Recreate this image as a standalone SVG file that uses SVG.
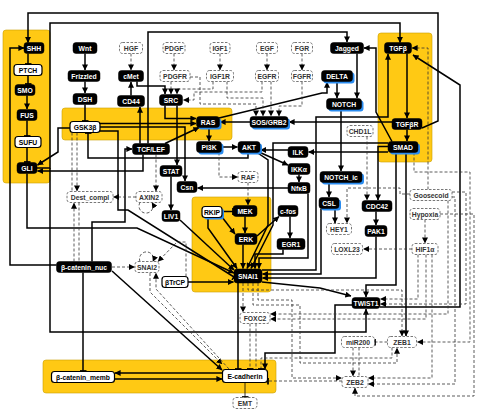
<svg xmlns="http://www.w3.org/2000/svg" width="480" height="415" viewBox="0 0 480 415">
<style>
.y{fill:#ffc914;stroke:#c9a000;stroke-width:.6}
.s path{fill:none;stroke:#000;stroke-width:1.5}
.s path.thin{stroke-width:.8}
.d path{fill:none;stroke:#333;stroke-width:.8;stroke-dasharray:3 2}
.nb{fill:#000;stroke:#000;stroke-width:.5}
.nw{fill:#fff;stroke:#000;stroke-width:1.2}
.nd{fill:#fff;stroke:#555;stroke-width:.8;stroke-dasharray:2.5 1.5}
.sh{fill:#2a8cf0}
text{font-family:"Liberation Sans",Arial,sans-serif;font-weight:bold;font-size:6.8px;text-anchor:middle;dominant-baseline:central}
.tw{fill:#fff}.tk{fill:#000}.td{fill:#333}
</style>
<defs>
<marker id="a" viewBox="0 0 8 8" refX="7.5" refY="4" markerWidth="6" markerHeight="6" markerUnits="userSpaceOnUse" orient="auto"><path d="M0,0 L8,4 L0,8 z" fill="#000"/></marker>
<marker id="t" viewBox="0 0 4 10" refX="3" refY="5" markerWidth="3" markerHeight="7" markerUnits="userSpaceOnUse" orient="auto"><path d="M3,0 V10" stroke="#000" stroke-width="2.5"/></marker>
</defs>
<rect width="480" height="415" fill="#fff"/>
<g id="regions">
<rect class="y" x="3" y="30" width="47" height="153" rx="3"/>
<rect class="y" x="62" y="108" width="170" height="32" rx="3"/>
<rect class="y" x="378" y="33" width="54" height="129" rx="3"/>
<rect class="y" x="192" y="197" width="79" height="95" rx="3"/>
<rect class="y" x="43" y="360" width="233" height="33" rx="3"/>
</g>
<g id="connectors">
<g class="s">
<path d="M28,53.5 V64" marker-end="url(#t)"/>
<path d="M28,75.5 V84" marker-end="url(#t)"/>
<path d="M27,95.5 V109" marker-end="url(#a)"/>
<path d="M27,120.5 V136" marker-end="url(#t)"/>
<path d="M27,147.5 V162" marker-end="url(#t)"/>
<path d="M56.5,265 H10 V48 H24" marker-end="url(#a)"/>
<path d="M422,128 L438,121 V13 H28 V42.5" marker-end="url(#a)"/>
<path d="M37,168 H50 V23 H400 V42.5" marker-end="url(#a)"/>
<path d="M50,168 V332 H366 V309" marker-end="url(#a)"/>
<path d="M27,173.5 V228 H137 L234,273" marker-end="url(#a)"/>
<path d="M70,128 H58 V152 L37.5,165" marker-end="url(#a)"/>
<path d="M143,154.5 V171 H37.5" marker-end="url(#a)"/>
<path d="M85,53.5 V70" marker-end="url(#a)"/>
<path d="M85,81.5 V93" marker-end="url(#a)"/>
<path d="M85,104.5 V121" marker-end="url(#t)"/>
<path d="M131,95.5 V82" marker-end="url(#a)"/>
<path d="M137,81.5 V86 H165 V94" marker-end="url(#a)"/>
<path d="M140,143.5 V107" marker-end="url(#a)"/>
<path d="M148,143.5 V32 H347 V42" marker-end="url(#a)"/>
<path d="M165,143.5 L199,127.5" marker-end="url(#a)"/>
<path d="M165,105.5 V118.5 H196" marker-end="url(#a)"/>
<path d="M177,105.5 V165" marker-end="url(#a)"/>
<path d="M100,123.5 H196" marker-end="url(#a)"/>
<path d="M100,127 H185 V181" marker-end="url(#a)"/>
<path d="M100,131 H118 V210 H128 L234,277" marker-end="url(#t)"/>
<path d="M248,152.5 V158 H88 V133" marker-end="url(#t)"/>
<path d="M92,261.5 V222 H125 V149 H132" marker-end="url(#a)"/>
<path d="M209,127.5 V141" marker-end="url(#a)"/>
<path d="M250,122 H220" marker-end="url(#a)"/>
<path d="M221.5,147 H237.5" marker-end="url(#a)"/>
<path d="M219,118 L322,93 H327 V82" marker-end="url(#a)"/>
<path d="M337,81.5 V98" marker-end="url(#a)"/>
<path d="M357,53.5 V98" marker-end="url(#a)"/>
<path d="M341,109.5 V171" marker-end="url(#a)"/>
<path d="M392,141.5 L376,112 V48 H364" marker-end="url(#a)"/>
<path d="M407,53.5 V118" marker-end="url(#a)"/>
<path d="M407,129.5 V141" marker-end="url(#a)"/>
<path d="M380,307 H460 V85 L413,55" marker-end="url(#a)"/>
<path d="M262,270 H316 V117 H388 V54" marker-end="url(#a)"/>
<path d="M392,122 H289" marker-end="url(#a)"/>
<path d="M388,143 H273 V225 L251,268.5" marker-end="url(#a)"/>
<path d="M388,146.5 H378 V200" marker-end="url(#a)"/>
<path d="M388,152 H308.5" marker-end="url(#a)"/>
<path d="M288,150 H260.5" marker-end="url(#a)"/>
<path d="M259,152 L288,165" marker-end="url(#a)"/>
<path d="M299,174.5 V182" marker-end="url(#a)"/>
<path d="M288,188 H197.5" marker-end="url(#a)"/>
<path d="M308,193.5 V258 H259 V268.5" marker-end="url(#a)"/>
<path d="M257,152.5 L268,160 V225 L247,268.5" marker-end="url(#a)"/>
<path d="M222,211.5 H233" marker-end="url(#t)"/>
<path d="M245,216.5 V233" marker-end="url(#a)"/>
<path d="M257,236 L279,216.5" marker-end="url(#a)"/>
<path d="M290,216.5 V238" marker-end="url(#a)"/>
<path d="M243,244.5 V268.5" marker-end="url(#a)"/>
<path d="M283,249.5 V254 H255 V268.5" marker-end="url(#a)"/>
<path d="M208,217.5 V228 L237,268.5" marker-end="url(#a)"/>
<path d="M222,217 L235,234" marker-end="url(#a)"/>
<path d="M171,176.5 V210" marker-end="url(#a)"/>
<path d="M180,220 L234,270" marker-end="url(#a)"/>
<path d="M188,282 H233.5" marker-end="url(#a)"/>
<path d="M329,182.5 V197" marker-end="url(#a)"/>
<path d="M335,208.5 V223" marker-end="url(#a)"/>
<path d="M321,208.5 V274 H262.5" marker-end="url(#a)"/>
<path d="M376,211.5 V225" marker-end="url(#a)"/>
<path d="M376,236.5 V278 H262.5" marker-end="url(#a)"/>
<path d="M262,282 L320,288 L351,296" marker-end="url(#a)"/>
<path d="M396,152.5 V285 H366 V297" marker-end="url(#a)"/>
<path d="M406,152.5 V336" marker-end="url(#a)"/>
<path d="M352,305 H335 V353 H265 V369" marker-end="url(#a)"/>
<path d="M238,283 V369" marker-end="url(#t)"/>
<path d="M112,271 L222,370" marker-end="url(#a)"/>
<path d="M83,272.5 V371" marker-end="url(#t)"/>
<path d="M222.5,373 H115" marker-end="url(#a)"/>
<path d="M114.5,379 H222" marker-end="url(#a)"/>
<path class="thin" d="M245,382.5 V397" marker-end="url(#t)"/>
</g>
<g class="d">
<path d="M131,53.5 V70" marker-end="url(#a)"/>
<path d="M174,53.5 V70" marker-end="url(#a)"/>
<path d="M220,53.5 V70" marker-end="url(#a)"/>
<path d="M267,53.5 V70" marker-end="url(#a)"/>
<path d="M302,53.5 V70" marker-end="url(#a)"/>
<path d="M171,81.5 V94" marker-end="url(#a)"/>
<path d="M213,81.5 V89 H177 V94" marker-end="url(#a)"/>
<path d="M262,81.5 V92 H194 V100 H183.5" marker-end="url(#a)"/>
<path d="M190,77 H200 V104 H256 V116" marker-end="url(#a)"/>
<path d="M227,81.5 V98 H263 V116" marker-end="url(#a)"/>
<path d="M271,81.5 V116" marker-end="url(#a)"/>
<path d="M302,81.5 V106 H279 V116" marker-end="url(#a)"/>
<path d="M219,152.5 V177 H237.5" marker-end="url(#a)"/>
<path d="M248,182.5 V205" marker-end="url(#a)"/>
<path d="M77,132.5 V191" marker-end="url(#a)"/>
<path d="M72,132.5 V191"/>
<path d="M74,261.5 V203" marker-end="url(#a)"/>
<path d="M79,202.5 V261"/>
<path d="M136,197 H113.5" marker-end="url(#a)"/>
<path d="M156,154.5 V191" marker-end="url(#a)"/>
<path d="M140,202.5 A7,7 0 1 0 152,202.5" marker-end="url(#a)"/>
<path d="M140,261.5 A7,7 0 1 1 153,261.5" marker-end="url(#a)"/>
<path d="M112,267 H134.5" marker-end="url(#a)"/>
<path d="M186,276.5 V242 H177 L158,261.5" marker-end="url(#a)"/>
<path d="M150,273 V292 L222,364" marker-end="url(#a)"/>
<path d="M229,369 L156,289 V273" marker-end="url(#a)"/>
<path d="M243,283 V312" marker-end="url(#a)"/>
<path d="M250,323.5 V369" marker-end="url(#t)"/>
<path d="M256,323.5 V369"/>
<path d="M248,283 V290 H402 V336" marker-end="url(#a)"/>
<path d="M258,283 V300 H292 V378 H341.5" marker-end="url(#a)"/>
<path d="M253,283 V305 H300 V363 H397 V348" marker-end="url(#a)"/>
<path d="M392,347.5 V358 H261 V369" marker-end="url(#t)"/>
<path d="M342,381 H268" marker-end="url(#t)"/>
<path d="M387.5,342 H375" marker-end="url(#t)"/>
<path d="M353,347.5 V376" marker-end="url(#a)"/>
<path d="M359,347.5 V376"/>
<path d="M367,136.5 V200" marker-end="url(#a)"/>
<path d="M410,194 H400 V188 H347 V223" marker-end="url(#a)"/>
<path d="M428,189.5 V48 H412" marker-end="url(#a)"/>
<path d="M425,219.5 V243" marker-end="url(#a)"/>
<path d="M412,249 H363.5" marker-end="url(#a)"/>
<path d="M418,254.5 V299 H380.5" marker-end="url(#a)"/>
<path d="M452,192 H466 V304 H380.5" marker-end="url(#a)"/>
<path d="M426,254.5 V319 H270.5" marker-end="url(#a)"/>
<path d="M448,200.5 V314 H270.5" marker-end="url(#a)"/>
<path d="M432,254.5 V378 H368.5" marker-end="url(#a)"/>
<path d="M452,197 H455 V384 H368.5" marker-end="url(#a)"/>
<path d="M414,152.5 V172 H470 V342 H417.5" marker-end="url(#a)"/>
<path d="M440,214 H474 V396 H355 V388" marker-end="url(#a)"/>
</g>
</g>
<g id="n-SHH"><rect class="nb" x="24" y="42.5" width="20" height="11" rx="3"/><text class="tw" x="34" y="48">SHH</text></g>
<g id="n-PTCH"><rect class="nw" x="14" y="64.5" width="28" height="11" rx="3"/><text class="tk" x="28" y="70">PTCH</text></g>
<g id="n-SMO"><rect class="nb" x="15" y="84.5" width="20" height="11" rx="3"/><text class="tw" x="25" y="90">SMO</text></g>
<g id="n-FUS"><rect class="nb" x="17" y="109.5" width="20" height="11" rx="3"/><text class="tw" x="27" y="115">FUS</text></g>
<g id="n-SUFU"><rect class="nw" x="15" y="136.5" width="26" height="11" rx="3"/><text class="tk" x="28" y="142">SUFU</text></g>
<g id="n-GLI"><rect class="nb" x="17" y="162.5" width="20" height="11" rx="3"/><text class="tw" x="27" y="168">GLI</text></g>
<g id="n-Wnt"><rect class="nb" x="73" y="42.5" width="24" height="11" rx="3"/><text class="tw" x="85" y="48">Wnt</text></g>
<g id="n-Frizzled"><rect class="nb" x="68" y="70.5" width="32" height="11" rx="3"/><text class="tw" x="84" y="76">Frizzled</text></g>
<g id="n-DSH"><rect class="nb" x="73" y="93.5" width="24" height="11" rx="3"/><text class="tw" x="85" y="99">DSH</text></g>
<g id="n-GSK3b"><rect class="nw" x="70" y="121.5" width="30" height="11" rx="3"/><text class="tk" x="85" y="127">GSK3β</text></g>
<g id="n-HGF"><rect class="nd" x="119.5" y="42.5" width="23" height="11" rx="3"/><text class="td" x="131" y="48">HGF</text></g>
<g id="n-cMet"><rect class="nb" x="118.5" y="70.5" width="25" height="11" rx="3"/><text class="tw" x="131" y="76">cMet</text></g>
<g id="n-CD44"><rect class="nb" x="117.5" y="95.5" width="27" height="11" rx="3"/><text class="tw" x="131" y="101">CD44</text></g>
<g id="n-PDGF"><rect class="nd" x="163" y="42.5" width="22" height="11" rx="3"/><text class="td" x="174" y="48">PDGF</text></g>
<g id="n-IGF1"><rect class="nd" x="210" y="42.5" width="20" height="11" rx="3"/><text class="td" x="220" y="48">IGF1</text></g>
<g id="n-EGF"><rect class="nd" x="256.5" y="42.5" width="21" height="11" rx="3"/><text class="td" x="267" y="48">EGF</text></g>
<g id="n-FGR"><rect class="nd" x="291.5" y="42.5" width="21" height="11" rx="3"/><text class="td" x="302" y="48">FGR</text></g>
<g id="n-PDGFR"><rect class="nd" x="160" y="70.5" width="30" height="11" rx="3"/><text class="td" x="175" y="76">PDGFR</text></g>
<g id="n-IGF1R"><rect class="nd" x="206.5" y="70.5" width="27" height="11" rx="3"/><text class="td" x="220" y="76">IGF1R</text></g>
<g id="n-EGFR"><rect class="nd" x="255.5" y="70.5" width="23" height="11" rx="3"/><text class="td" x="267" y="76">EGFR</text></g>
<g id="n-FGFR"><rect class="nd" x="291.5" y="70.5" width="21" height="11" rx="3"/><text class="td" x="302" y="76">FGFR</text></g>
<g id="n-SRC"><rect class="nb" x="159.5" y="94.5" width="23" height="11" rx="3"/><text class="tw" x="171" y="100">SRC</text></g>
<g id="n-RAS"><rect class="sh" x="198.5" y="118.5" width="23" height="11" rx="3"/><rect class="nb" x="196.5" y="116.5" width="23" height="11" rx="3"/><text class="tw" x="208" y="122">RAS</text></g>
<g id="n-SOSGRB2"><rect class="sh" x="252" y="118.5" width="38" height="11" rx="3"/><rect class="nb" x="250" y="116.5" width="38" height="11" rx="3"/><text class="tw" x="269" y="122">SOS/GRB2</text></g>
<g id="n-Jagged"><rect class="nb" x="330.5" y="42.5" width="33" height="11" rx="3"/><text class="tw" x="347" y="48">Jagged</text></g>
<g id="n-TGFb"><rect class="nb" x="384.5" y="42.5" width="27" height="11" rx="3"/><text class="tw" x="398" y="48">TGFβ</text></g>
<g id="n-DELTA"><rect class="sh" x="323.5" y="72.5" width="31" height="11" rx="3"/><rect class="nb" x="321.5" y="70.5" width="31" height="11" rx="3"/><text class="tw" x="337" y="76">DELTA</text></g>
<g id="n-NOTCH"><rect class="sh" x="328.5" y="100.5" width="35" height="11" rx="3"/><rect class="nb" x="326.5" y="98.5" width="35" height="11" rx="3"/><text class="tw" x="344" y="104">NOTCH</text></g>
<g id="n-TGFbR"><rect class="nb" x="392" y="118.5" width="30" height="11" rx="3"/><text class="tw" x="407" y="124">TGFβR</text></g>
<g id="n-CHD1L"><rect class="nd" x="347" y="125.5" width="26" height="11" rx="3"/><text class="td" x="360" y="131">CHD1L</text></g>
<g id="n-SMAD"><rect class="sh" x="390" y="143.5" width="30" height="11" rx="3"/><rect class="nb" x="388" y="141.5" width="30" height="11" rx="3"/><text class="tw" x="403" y="147">SMAD</text></g>
<g id="n-TCFLEF"><rect class="nb" x="132.5" y="143.5" width="37" height="11" rx="3"/><text class="tw" x="151" y="149">TCF/LEF</text></g>
<g id="n-PI3K"><rect class="sh" x="198.5" y="143.5" width="25" height="11" rx="3"/><rect class="nb" x="196.5" y="141.5" width="25" height="11" rx="3"/><text class="tw" x="209" y="147">PI3K</text></g>
<g id="n-AKT"><rect class="sh" x="240" y="143.5" width="22" height="11" rx="3"/><rect class="nb" x="238" y="141.5" width="22" height="11" rx="3"/><text class="tw" x="249" y="147">AKT</text></g>
<g id="n-ILK"><rect class="nb" x="288" y="146.5" width="20" height="11" rx="3"/><text class="tw" x="298" y="152">ILK</text></g>
<g id="n-STAT"><rect class="nb" x="160" y="165.5" width="22" height="11" rx="3"/><text class="tw" x="171" y="171">STAT</text></g>
<g id="n-IKKa"><rect class="nb" x="288" y="163.5" width="22" height="11" rx="3"/><text class="tw" x="299" y="169">IKKα</text></g>
<g id="n-RAF"><rect class="nd" x="238" y="171.5" width="20" height="11" rx="3"/><text class="td" x="248" y="177">RAF</text></g>
<g id="n-Csn"><rect class="nb" x="177" y="181.5" width="20" height="11" rx="3"/><text class="tw" x="187" y="187">Csn</text></g>
<g id="n-NFkB"><rect class="nb" x="288" y="182.5" width="22" height="11" rx="3"/><text class="tw" x="299" y="188">NfκB</text></g>
<g id="n-NOTCHic"><rect class="sh" x="322" y="173.5" width="42" height="11" rx="3"/><rect class="nb" x="320" y="171.5" width="42" height="11" rx="3"/><text class="tw" x="341" y="177">NOTCH_ic</text></g>
<g id="n-Dest"><rect class="nd" x="67" y="191.5" width="46" height="11" rx="3"/><text class="td" x="90" y="197">Dest_compl</text></g>
<g id="n-AXIN2"><rect class="nd" x="136" y="191.5" width="26" height="11" rx="3"/><text class="td" x="149" y="197">AXIN2</text></g>
<g id="n-CSL"><rect class="sh" x="321" y="199.5" width="20" height="11" rx="3"/><rect class="nb" x="319" y="197.5" width="20" height="11" rx="3"/><text class="tw" x="329" y="203">CSL</text></g>
<g id="n-CDC42"><rect class="nb" x="362" y="200.5" width="30" height="11" rx="3"/><text class="tw" x="377" y="206">CDC42</text></g>
<g id="n-Goosecoid"><rect class="nd" x="410" y="189.5" width="42" height="11" rx="3"/><text class="td" x="431" y="195">Goosecoid</text></g>
<g id="n-Hypoxia"><rect class="nd" x="410" y="208.5" width="30" height="11" rx="3"/><text class="td" x="425" y="214">Hypoxia</text></g>
<g id="n-RKIP"><rect class="sh" x="204" y="208.5" width="20" height="11" rx="3"/><rect class="nw" x="202" y="206.5" width="20" height="11" rx="3"/><text class="tk" x="212" y="212">RKIP</text></g>
<g id="n-MEK"><rect class="nb" x="233" y="205.5" width="24" height="11" rx="3"/><text class="tw" x="245" y="211">MEK</text></g>
<g id="n-cfos"><rect class="nb" x="278" y="205.5" width="20" height="11" rx="3"/><text class="tw" x="288" y="211">c-fos</text></g>
<g id="n-LIV1"><rect class="nb" x="162" y="210.5" width="18" height="11" rx="3"/><text class="tw" x="171" y="216">LIV1</text></g>
<g id="n-HEY1"><rect class="nd" x="326.5" y="223.5" width="25" height="11" rx="3"/><text class="td" x="339" y="229">HEY1</text></g>
<g id="n-PAK1"><rect class="nb" x="365" y="225.5" width="22" height="11" rx="3"/><text class="tw" x="376" y="231">PAK1</text></g>
<g id="n-ERK"><rect class="nb" x="235" y="233.5" width="22" height="11" rx="3"/><text class="tw" x="246" y="239">ERK</text></g>
<g id="n-EGR1"><rect class="nb" x="277" y="238.5" width="28" height="11" rx="3"/><text class="tw" x="291" y="244">EGR1</text></g>
<g id="n-LOXL23"><rect class="nd" x="331.5" y="243.5" width="31" height="11" rx="3"/><text class="td" x="347" y="249">LOXL23</text></g>
<g id="n-HIF1a"><rect class="nd" x="412" y="243.5" width="26" height="11" rx="3"/><text class="td" x="425" y="249">HIF1α</text></g>
<g id="n-bcatnuc"><rect class="nb" x="56.5" y="261.5" width="55" height="11" rx="3"/><text class="tw" x="84" y="267">β-catenin_nuc</text></g>
<g id="n-SNAI2"><rect class="nd" x="135" y="261.5" width="24" height="11" rx="3"/><text class="td" x="147" y="267">SNAI2</text></g>
<g id="n-SNAI1"><rect class="nb" x="234" y="269" width="28" height="14" rx="3"/><text class="tw" x="248" y="276">SNAI1</text></g>
<g id="n-bTrCP"><rect class="nw" x="162" y="276.5" width="26" height="11" rx="3"/><text class="tk" x="175" y="282">βTrCP</text></g>
<g id="n-TWIST1"><rect class="nb" x="352" y="297.5" width="28" height="11" rx="3"/><text class="tw" x="366" y="303">TWIST1</text></g>
<g id="n-FOXC2"><rect class="nd" x="240" y="312.5" width="30" height="11" rx="3"/><text class="td" x="255" y="318">FOXC2</text></g>
<g id="n-miR200"><rect class="nd" x="341.5" y="336.5" width="33" height="11" rx="3"/><text class="td" x="358" y="342">miR200</text></g>
<g id="n-ZEB1"><rect class="nd" x="387.5" y="336.5" width="29" height="11" rx="3"/><text class="td" x="402" y="342">ZEB1</text></g>
<g id="n-bcatmemb"><rect class="nw" x="51.5" y="371.5" width="63" height="11" rx="3"/><text class="tk" x="83" y="377">β-catenin_memb</text></g>
<g id="n-Ecad"><rect class="nw" x="222.5" y="369.5" width="45" height="13" rx="3"/><text class="tk" x="245" y="376">E-cadherin</text></g>
<g id="n-ZEB2"><rect class="nd" x="342" y="376.5" width="26" height="11" rx="3"/><text class="td" x="355" y="382">ZEB2</text></g>
<g id="n-EMT"><rect class="nd" x="233" y="397.5" width="24" height="11" rx="3"/><text class="td" x="245" y="403">EMT</text></g>
</svg>
